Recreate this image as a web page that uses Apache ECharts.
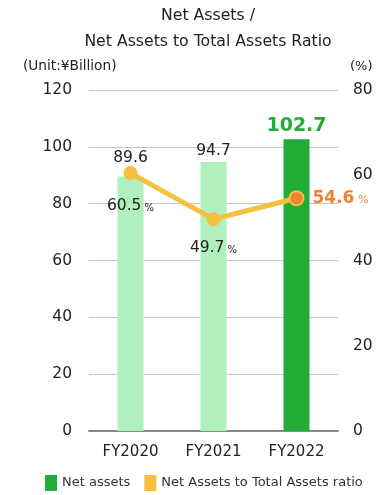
<!DOCTYPE html>
<html>
<head>
<meta charset="utf-8">
<script src="https://cdn.jsdelivr.net/npm/echarts@6/dist/echarts.min.js"></script>
<style>
  html, body { margin: 0; padding: 0; background: #fff; }
  #chart { width: 385px; height: 495px; }
</style>
</head>
<body>
<div id="chart"></div>
<script>
// Fiscal years on the category axis
const categories = ['FY2020', 'FY2021', 'FY2022'];
// Net assets, ¥ billion
const netAssets = [89.6, 94.7, 102.7];
// Net assets to total assets ratio, %
const equityRatio = [60.5, 49.7, 54.6];
// Axis tick ranges
const leftTicks = { min: 0, max: 120, interval: 20 };
const rightTicks = { min: 0, max: 80, interval: 20 };

const FONT = 'DejaVu Sans';
const LIGHT_GREEN = '#b0f0bc';
const DARK_GREEN = '#22ad38';
const YELLOW = '#f6c13f';
const ORANGE = '#f08233';
const last = categories.length - 1;

const barData = netAssets.map((v, i) => {
  const item = { value: v, itemStyle: { color: i === last ? DARK_GREEN : LIGHT_GREEN } };
  if (i === last) {
    item.label = { color: DARK_GREEN, fontWeight: 'bold', fontSize: 19, distance: 4 };
  } else if (i === 0) {
    item.label = { distance: 10 };
  }
  return item;
});

const lineData = equityRatio.map((v, i) => {
  const item = { value: v };
  if (i === last) {
    item.itemStyle = { color: ORANGE, borderColor: YELLOW, borderWidth: 2 };
    item.label = {
      position: 'right', distance: 8,
      formatter: '{b|{c}}{s| %}',
      rich: {
        b: { fontFamily: FONT, fontSize: 17, fontWeight: 'bold', color: ORANGE },
        s: { fontFamily: FONT, fontSize: 11, color: ORANGE, padding: [4, 0, 0, 0] }
      }
    };
  } else {
    item.label = { position: 'bottom', distance: i === 0 ? 18 : 14 };
  }
  return item;
});

const chart = echarts.init(document.getElementById('chart'), null, { renderer: 'canvas' });
chart.setOption({
  animation: false,
  textStyle: { fontFamily: FONT },
  title: {
    text: 'Net Assets /\nNet Assets to Total Assets Ratio',
    left: 203, top: -2, textAlign: 'center',
    textStyle: { fontFamily: FONT, fontSize: 15.7, fontWeight: 'normal', color: '#222', lineHeight: 26 }
  },
  legend: {
    bottom: -1, left: 40, itemWidth: 12, itemHeight: 16, itemGap: 14,
    icon: 'rect',
    textStyle: { fontFamily: FONT, fontSize: 13, color: '#333' },
    data: [
      { name: 'Net assets', itemStyle: { color: DARK_GREEN } },
      { name: 'Net Assets to Total Assets ratio', itemStyle: { color: YELLOW } }
    ]
  },
  grid: { left: 89, right: 47, top: 90, bottom: 64 },
  xAxis: {
    type: 'category',
    data: categories,
    axisLine: { lineStyle: { color: '#888', width: 2 } },
    axisTick: { show: false },
    axisLabel: { fontFamily: FONT, fontSize: 15, color: '#222', margin: 14 }
  },
  yAxis: [
    {
      type: 'value', ...leftTicks,
      name: '(Unit:¥Billion)', nameLocation: 'end', nameGap: 17,
      nameTextStyle: { fontFamily: FONT, fontSize: 13.7, color: '#222', align: 'left', padding: [0, 0, 0, -66] },
      axisLine: { show: false }, axisTick: { show: false },
      axisLabel: { fontFamily: FONT, fontSize: 15.5, color: '#222', margin: 17 },
      splitLine: { lineStyle: { color: '#c4c4c4', width: 1 } }
    },
    {
      type: 'value', ...rightTicks,
      name: '(%)', nameLocation: 'end', nameGap: 17,
      nameTextStyle: { fontFamily: FONT, fontSize: 13, color: '#222', align: 'left', padding: [0, 0, 0, 12] },
      axisLine: { show: false }, axisTick: { show: false },
      axisLabel: { fontFamily: FONT, fontSize: 15.5, color: '#222', margin: 15 },
      splitLine: { show: false }
    }
  ],
  series: [
    {
      name: 'Net assets', type: 'bar', yAxisIndex: 0,
      data: barData, barWidth: 26,
      label: { show: true, position: 'top', distance: 3, fontFamily: FONT, fontSize: 15.5, color: '#222' }
    },
    {
      name: 'Net Assets to Total Assets ratio', type: 'line', yAxisIndex: 1,
      data: lineData,
      symbol: 'circle', symbolSize: 14,
      lineStyle: { color: YELLOW, width: 5 },
      itemStyle: { color: YELLOW },
      label: {
        show: true,
        formatter: '{b|{c}}{s| %}',
        rich: {
          b: { fontFamily: FONT, fontSize: 15.5, color: '#222' },
          s: { fontFamily: FONT, fontSize: 10, color: '#222', padding: [4, 0, 0, 0] }
        }
      },
      z: 5
    }
  ]
});
</script>
</body>
</html>
